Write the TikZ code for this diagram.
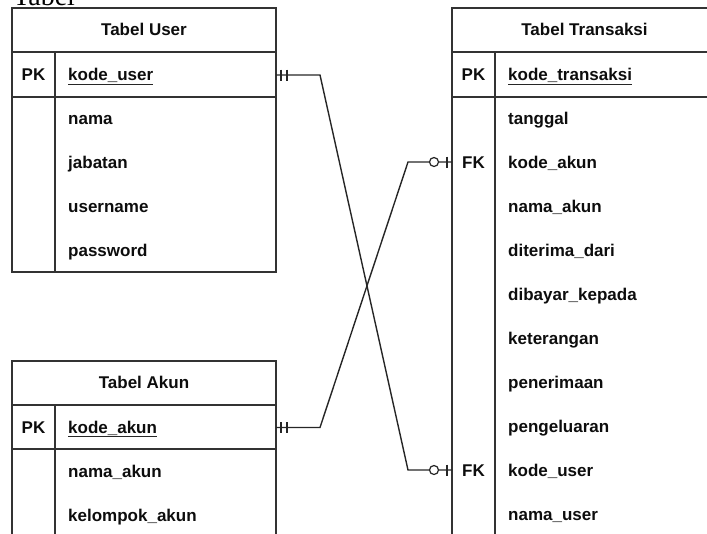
\documentclass[tikz,border=0pt]{standalone}
\usepackage{fontspec}
\setmainfont{Liberation Sans}
\newfontfamily\serifhead{Liberation Serif}
\tikzset{
  tbl/.style={draw=black!80, line width=1.3pt},
  lbl/.style={inner sep=0pt, anchor=base west, font=\fontsize{17}{20}\selectfont\bfseries, text=black!95},
  keylbl/.style={inner sep=0pt, anchor=base, font=\fontsize{17}{20}\selectfont\bfseries, text=black!95},
  conn/.style={draw=black!85, line width=1.4pt},
  cmark/.style={draw=black!85, line width=1.2pt},
  ul/.style={draw=black!85, line width=1pt}
}
\begin{document}
\begin{tikzpicture}[x=1pt,y=-1pt]
\useasboundingbox (0,0) rectangle (707,533);
\clip (0,0) rectangle (707,533);
\node[anchor=base west, inner sep=0pt, font=\serifhead\fontsize{28}{30}\selectfont] (title) at (13,5) {Tabel};

% ---------- Tabel User ----------
\draw[tbl] (12,8) rectangle (276,272);
\draw[tbl] (12,52) -- (276,52);
\draw[tbl] (12,97) -- (276,97);
\draw[tbl] (55,52) -- (55,272);
\node[keylbl] (uh) at (144,35.5) {Tabel User};
\node[keylbl] (upk) at (33.5,80.5) {PK};
\node[lbl] (ukey) at (68,80.5) {kode\_user};
\draw[ul] ([shift={(0,3.5)}]ukey.base west) -- ([shift={(0,3.5)}]ukey.base east);
\node[lbl] (u1) at (68,124) {nama};
\node[lbl] (u2) at (68,168) {jabatan};
\node[lbl] (u3) at (68,212) {username};
\node[lbl] (u4) at (68,256) {password};

% ---------- Tabel Akun ----------
\draw[tbl] (12,545) -- (12,361) -- (276,361) -- (276,545);
\draw[tbl] (12,405) -- (276,405);
\draw[tbl] (12,449) -- (276,449);
\draw[tbl] (55,405) -- (55,545);
\node[keylbl] (ah) at (144,388.5) {Tabel Akun};
\node[keylbl] (apk) at (33.5,433) {PK};
\node[lbl] (akey) at (68,433) {kode\_akun};
\draw[ul] ([shift={(0,3.5)}]akey.base west) -- ([shift={(0,3.5)}]akey.base east);
\node[lbl] (a1) at (68,477) {nama\_akun};
\node[lbl] (a2) at (68,521) {kelompok\_akun};

% ---------- Tabel Transaksi ----------
\draw[tbl] (452,545) -- (452,8) -- (720,8) -- (720,545);
\draw[tbl] (452,52) -- (720,52);
\draw[tbl] (452,97) -- (720,97);
\draw[tbl] (495,52) -- (495,545);
\node[keylbl] (th) at (584.5,35.5) {Tabel Transaksi};
\node[keylbl] (tpk) at (473.5,80.5) {PK};
\node[lbl] (tkey) at (508,80.5) {kode\_transaksi};
\draw[ul] ([shift={(0,3.5)}]tkey.base west) -- ([shift={(0,3.5)}]tkey.base east);
\node[lbl] (t1) at (508,124) {tanggal};
\node[keylbl] (tfk1) at (473.5,168) {FK};
\node[lbl] (t2) at (508,168) {kode\_akun};
\node[lbl] (t3) at (508,212) {nama\_akun};
\node[lbl] (t4) at (508,256) {diterima\_dari};
\node[lbl] (t5) at (508,300) {dibayar\_kepada};
\node[lbl] (t6) at (508,344) {keterangan};
\node[lbl] (t7) at (508,388) {penerimaan};
\node[lbl] (t8) at (508,432) {pengeluaran};
\node[keylbl] (tfk2) at (473.5,476) {FK};
\node[lbl] (t9) at (508,476) {kode\_user};
\node[lbl] (t10) at (508,520) {nama\_user};

% ---------- connector end points ----------
\coordinate (cu) at (276,75);
\coordinate (cub) at (320,75);
\coordinate (ctu) at (452,470);
\coordinate (ctub) at (408,470);
\coordinate (ca) at (276,427.5);
\coordinate (cab) at (320,427.5);
\coordinate (cta) at (452,162);
\coordinate (ctab) at (408,162);

\draw[conn] (cu) -- (cub) -- (ctub) -- (ctu);
\draw[conn] (ca) -- (cab) -- (ctab) -- (cta);

% one-and-only-one marks
\foreach \c in {cu,ca}{
  \draw[cmark] ([shift={(5,-5.5)}]\c) -- ([shift={(5,5.5)}]\c);
  \draw[cmark] ([shift={(11,-5.5)}]\c) -- ([shift={(11,5.5)}]\c);
}
% zero-or-one marks
\foreach \c in {ctu,cta}{
  \draw[cmark, fill=white] ([shift={(-18,0)}]\c) circle[radius=4.5pt];
  \draw[cmark] ([shift={(-5,-5.5)}]\c) -- ([shift={(-5,5.5)}]\c);
}
\end{tikzpicture}
\end{document}
